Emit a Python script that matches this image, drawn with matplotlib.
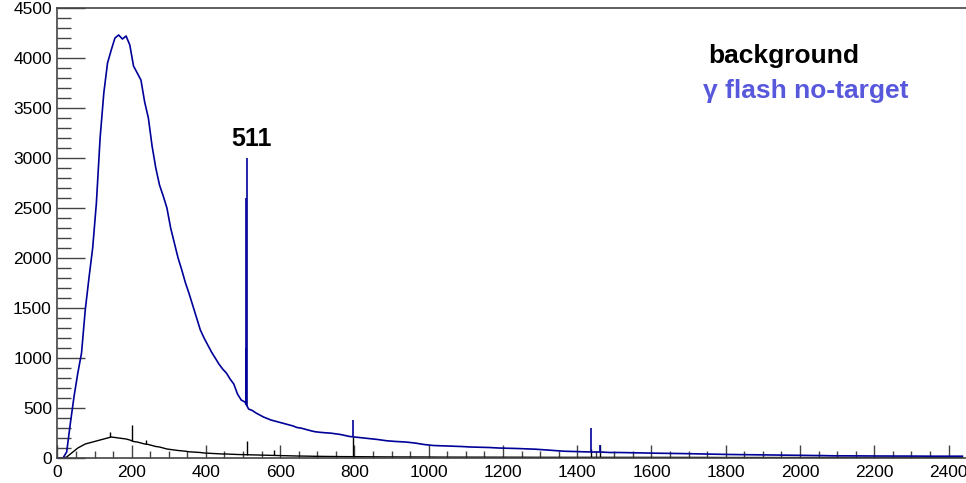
import numpy as np
import matplotlib
matplotlib.use('Agg')
import matplotlib.pyplot as plt
from matplotlib.ticker import MultipleLocator

plt.rcParams['font.family'] = ['Liberation Sans', 'DejaVu Sans']

# binning: 10 keV bins up to 700, then 25 keV bins up to 2450
fine_edges = np.arange(0, 701, 10)
coarse_edges = np.arange(725, 2451, 25)
edges = np.concatenate([fine_edges, coarse_edges])
centers = 0.5 * (edges[:-1] + edges[1:])

# gamma flash no-target (blue)
flash_fine = [0, 0, 60, 350, 620, 850, 1050, 1480, 1800, 2100,
              2550, 3200, 3650, 3950, 4080, 4200, 4230, 4190, 4220, 4130,
              3920, 3850, 3780, 3560, 3400, 3120, 2900, 2730, 2620, 2500,
              2300, 2150, 2000, 1880, 1750, 1640, 1520, 1400, 1280, 1200,
              1130, 1060, 1000, 940, 890, 850, 790, 740, 640, 580,
              560, 490, 475, 450, 430, 410, 395, 380, 370, 360,
              350, 340, 330, 320, 305, 300, 290, 280, 270, 262]
flash_coarse = [255, 248, 235, 215, 205, 195, 185, 172, 165, 160,
                150, 135, 125, 122, 118, 115, 110, 108, 105, 100,
                98, 95, 92, 88, 82, 75, 68, 65, 63, 60,
                60, 55, 55, 53, 52, 50, 48, 47, 46, 44,
                42, 40, 38, 37, 35, 34, 33, 32, 31, 30,
                29, 28, 26, 25, 24, 22, 22, 21, 21, 20,
                20, 20, 19, 19, 19, 18, 18, 18, 18, 18]
flash = np.array(flash_fine + flash_coarse)

# background (black)
bkg_fine = [0, 0, 10, 40, 70, 100, 120, 140, 150, 160,
            170, 180, 190, 200, 210, 205, 200, 195, 190, 180,
            165, 160, 150, 140, 135, 125, 115, 110, 100, 90,
            85, 80, 75, 72, 68, 62, 60, 58, 55, 50,
            48, 46, 44, 42, 40, 40, 38, 36, 35, 34,
            32, 32, 30, 30, 28, 28, 26, 26, 25, 24,
            24, 22, 22, 21, 20, 20, 19, 18, 18, 17]
bkg_coarse = [16, 15, 14, 14, 13, 12, 12, 11, 11, 10,
              10, 10, 9, 9, 9, 9, 8, 8, 8, 8,
              8, 8, 7, 7, 7, 7, 7, 7, 7, 7,
              7, 6, 6, 6, 6, 6, 6, 6, 6, 6,
              6, 6, 5, 5, 5, 5, 5, 5, 5, 5,
              5, 5, 5, 5, 5, 5, 5, 5, 5, 5,
              5, 5, 5, 5, 5, 5, 5, 5, 5, 5]
bkg = np.array(bkg_fine + bkg_coarse)

# narrow lines (energy, peak height)
flash_lines_e = [507, 509, 511, 796, 1436, 1461]
flash_lines_h = [1100, 2600, 3000, 380, 300, 130]
bkg_lines_e = [141, 200, 238, 511, 583, 796, 1436, 1461]
bkg_lines_h = [265, 330, 180, 175, 80, 215, 90, 130]

blue = '#000099'
label_blue = '#5858dc'


def base_at(vals, e):
    return np.interp(e, centers, vals)


fig = plt.figure(figsize=(9.66, 4.83), dpi=100)
ax = fig.add_axes([57.4 / 966, 25 / 483, 1 - 57.4 / 966, 450 / 483])

ax.plot(centers, bkg, color='black', lw=1.0)
ax.vlines(bkg_lines_e, [base_at(bkg, e) for e in bkg_lines_e], bkg_lines_h,
          color='black', lw=1.0)
ax.plot(centers, flash, color=blue, lw=1.2)
ax.vlines(flash_lines_e, [base_at(flash, e) for e in flash_lines_e], flash_lines_h,
          color=blue, lw=1.2)

ax.set_xlim(0, (966 - 57.4) / 0.3713)
ax.set_ylim(0, 4500)

ax.xaxis.set_major_locator(MultipleLocator(200))
ax.xaxis.set_minor_locator(MultipleLocator(50))
ax.yaxis.set_major_locator(MultipleLocator(500))
ax.yaxis.set_minor_locator(MultipleLocator(100))

ax.tick_params(axis='both', which='both', direction='in', color='#444444',
               labelsize=12.5, top=False, right=False)
ax.tick_params(axis='y', which='major', length=20, width=1, pad=4)
ax.tick_params(axis='y', which='minor', length=10, width=1)
ax.tick_params(axis='x', which='major', length=9.5, width=1, pad=5)
ax.tick_params(axis='x', which='minor', length=5, width=1)

ax.spines['right'].set_visible(False)
for s in ['left', 'bottom', 'top']:
    ax.spines[s].set_color('#444444')
    ax.spines[s].set_linewidth(1.2)

ax.text(522, 3120, '511', fontsize=18, fontweight='bold', ha='center', va='baseline')
fig.text(708 / 966, 1 - 63 / 483, 'background', fontsize=19, fontweight='bold',
         color='black', ha='left', va='baseline')
fig.text(703 / 966, 1 - 98 / 483, 'γ flash no-target', fontsize=19, fontweight='bold',
         color=label_blue, ha='left', va='baseline')

fig.savefig('out.png', dpi=100)
